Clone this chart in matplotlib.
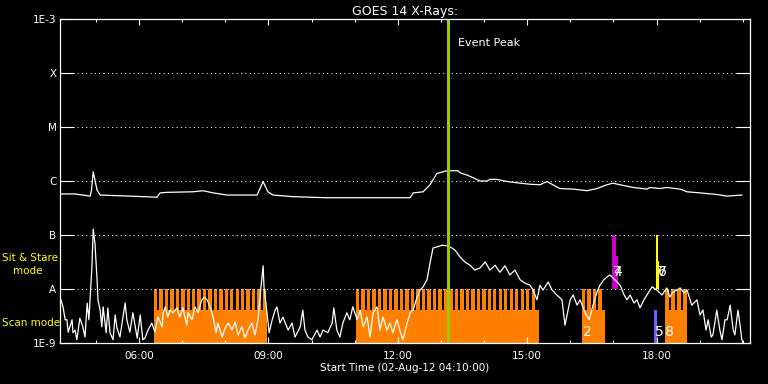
import numpy as np
import matplotlib
matplotlib.use("Agg")
import matplotlib.pyplot as plt
from matplotlib.ticker import NullLocator

start_hour = 4 + 10 / 60.0   # 02-Aug-12 04:10:00

# GOES 14 long channel, hours after start / log10 flux (W m^-2)
long_t = [0.00, 0.35, 0.70, 0.73, 0.77, 0.81, 0.86, 0.93, 1.62, 2.25,
          2.32, 2.48, 3.08, 3.32, 3.55, 3.87, 4.57, 4.71, 4.82, 4.94,
          5.40, 6.19, 8.12, 8.19, 8.42, 8.58, 8.74, 8.97, 9.23, 9.28,
          9.44, 9.58, 9.74, 9.90, 9.97, 10.13, 10.37, 10.67, 10.90, 11.13,
          11.29, 11.43, 11.59, 11.90, 12.22, 12.45, 12.68, 12.82, 12.99, 13.29,
          13.61, 13.68, 13.91, 14.07, 14.38, 14.54, 14.84, 15.23, 15.47, 15.81]
long_logf = [-6.24, -6.24, -6.28, -6.17, -5.83, -5.98, -6.17, -6.26, -6.28, -6.30,
             -6.22, -6.21, -6.20, -6.18, -6.22, -6.26, -6.26, -6.01, -6.20, -6.26,
             -6.29, -6.31, -6.31, -6.22, -6.20, -6.07, -5.86, -5.81, -5.81, -5.85,
             -5.89, -5.94, -6.00, -6.00, -5.97, -5.97, -6.01, -6.04, -6.06, -6.07,
             -6.01, -6.07, -6.14, -6.15, -6.18, -6.14, -6.07, -6.04, -6.07, -6.12,
             -6.15, -6.12, -6.14, -6.12, -6.15, -6.20, -6.22, -6.25, -6.28, -6.26]

# GOES 14 short channel
short_t = [0.02, 0.07, 0.12, 0.16, 0.19, 0.23, 0.28, 0.30, 0.35, 0.39,
           0.46, 0.53, 0.58, 0.63, 0.67, 0.74, 0.77, 0.81, 0.86, 0.88,
           0.93, 0.97, 1.00, 1.07, 1.11, 1.16, 1.23, 1.28, 1.32, 1.39,
           1.46, 1.51, 1.55, 1.62, 1.69, 1.79, 1.86, 1.92, 1.97, 2.04,
           2.13, 2.20, 2.27, 2.37, 2.39, 2.44, 2.50, 2.55, 2.62, 2.71,
           2.78, 2.85, 2.94, 2.97, 3.06, 3.13, 3.20, 3.29, 3.34, 3.41,
           3.48, 3.55, 3.62, 3.66, 3.76, 3.83, 3.90, 3.99, 4.06, 4.13,
           4.22, 4.29, 4.36, 4.45, 4.52, 4.59, 4.66, 4.71, 4.73, 4.80,
           4.85, 4.92, 4.99, 5.03, 5.10, 5.17, 5.29, 5.38, 5.45, 5.57,
           5.63, 5.68, 5.75, 5.84, 5.96, 6.03, 6.10, 6.21, 6.31, 6.35,
           6.42, 6.49, 6.56, 6.65, 6.72, 6.79, 6.89, 6.96, 7.03, 7.12,
           7.19, 7.26, 7.35, 7.42, 7.49, 7.58, 7.65, 7.72, 7.81, 7.88,
           7.95, 8.05, 8.12, 8.19, 8.28, 8.35, 8.42, 8.51, 8.58, 8.65,
           8.74, 8.86, 8.97, 9.09, 9.16, 9.28, 9.39, 9.51, 9.62, 9.74,
           9.86, 9.97, 10.09, 10.20, 10.32, 10.43, 10.55, 10.67, 10.78, 10.90,
           10.97, 11.06, 11.13, 11.20, 11.32, 11.41, 11.52, 11.64, 11.71, 11.83,
           11.90, 11.99, 12.06, 12.17, 12.27, 12.36, 12.45, 12.52, 12.61, 12.68,
           12.75, 12.87, 12.99, 13.08, 13.15, 13.22, 13.31, 13.38, 13.45, 13.54,
           13.61, 13.73, 13.84, 13.96, 14.07, 14.14, 14.21, 14.31, 14.38, 14.47,
           14.54, 14.65, 14.77, 14.84, 14.91, 14.98, 15.03, 15.10, 15.14, 15.23,
           15.30, 15.35, 15.42, 15.47, 15.54, 15.61, 15.65, 15.72, 15.77, 15.81,
           15.84]
short_logf = [-8.20, -8.33, -8.57, -8.57, -8.80, -8.70, -8.57, -8.81, -8.76, -8.94,
              -8.54, -8.70, -8.89, -8.26, -8.57, -7.59, -6.89, -7.15, -7.83, -8.20,
              -8.39, -8.70, -8.33, -8.81, -8.35, -8.81, -8.94, -8.48, -8.72, -8.89,
              -8.52, -8.26, -8.57, -8.80, -8.44, -8.91, -8.48, -8.94, -8.91, -8.76,
              -8.63, -8.80, -8.52, -8.70, -8.44, -8.33, -8.52, -8.39, -8.44, -8.35,
              -8.52, -8.35, -8.67, -8.43, -8.57, -8.33, -8.44, -8.20, -8.15, -8.20,
              -8.33, -8.52, -8.81, -8.63, -8.89, -8.72, -8.63, -8.76, -8.61, -8.85,
              -8.70, -8.91, -8.76, -8.63, -8.85, -8.57, -7.96, -7.57, -7.96, -8.44,
              -8.81, -8.57, -8.39, -8.33, -8.63, -8.52, -8.76, -8.63, -8.89, -8.70,
              -8.39, -8.76, -8.89, -8.94, -8.76, -8.89, -8.76, -8.81, -8.63, -8.35,
              -8.76, -8.89, -8.63, -8.44, -8.57, -8.33, -8.57, -8.39, -8.70, -8.52,
              -8.89, -8.44, -8.33, -8.76, -8.52, -8.76, -8.63, -8.81, -8.57, -8.76,
              -8.94, -8.63, -8.44, -8.39, -8.15, -8.02, -7.96, -7.83, -7.52, -7.24,
              -7.22, -7.19, -7.20, -7.24, -7.28, -7.41, -7.50, -7.56, -7.65, -7.61,
              -7.50, -7.65, -7.56, -7.69, -7.57, -7.74, -7.65, -7.83, -7.89, -7.93,
              -8.02, -8.20, -7.93, -8.02, -7.87, -8.02, -8.11, -8.20, -8.67, -8.20,
              -8.11, -8.30, -8.20, -8.43, -8.57, -8.30, -8.06, -7.93, -7.83, -7.78,
              -7.74, -7.83, -7.93, -8.11, -8.20, -8.11, -8.26, -8.20, -8.35, -8.20,
              -8.11, -7.96, -8.02, -8.11, -7.98, -8.15, -8.06, -8.02, -7.98, -8.07,
              -8.02, -8.30, -8.20, -8.48, -8.39, -8.76, -8.57, -8.89, -8.85, -8.39,
              -8.76, -8.94, -8.57, -8.57, -8.30, -8.76, -8.85, -8.39, -8.67, -8.94,
              -9.00]

# IRIS scan-mode blocks (hours after start)
scan_start = [2.18, 6.86, 12.10, 14.03]
scan_end = [4.80, 11.11, 12.64, 14.54]
scan_repeats = [21, 33, 4, 4]
scan_cadence = [0.126, 0.1273, 0.1276, 0.139]
scan_exposure = [0.079, 0.079, 0.079, 0.093]
scan_low = 4.1e-9
scan_high = 1e-8

# sit & stare / other observations
sit_start = [12.80, 12.885]
sit_end = [12.885, 12.93]
sit_top = [1e-7, 4.1e-8]
stare2_start = [13.82, 13.87]
stare2_end = [13.87, 13.90]
stare2_top = [1e-7, 3.3e-8]
blue_start = [13.77]
blue_end = [13.84]
blue_top = [4.1e-9]

obs_num = ['2', '7', '4', '5', '6', '7', '8']
obs_num_t = [12.13, 12.82, 12.82, 13.80, 13.87, 13.87, 14.03]
obs_num_logf = [-8.80, -7.69, -7.69, -8.80, -7.69, -7.69, -8.80]

peak_t = 9.0

level_vals = [1e-9, 1e-8, 1e-7, 1e-6, 1e-5, 1e-4, 1e-3]
level_names = ['1E-9', 'A', 'B', 'C', 'M', 'X', '1E-3']
hour_ticks = [6, 9, 12, 15, 18]
hour_labels = ['06:00', '09:00', '12:00', '15:00', '18:00']

orange = '#ff8000'
fig = plt.figure(figsize=(7.68, 3.84), dpi=100, facecolor='black')
ax = fig.add_axes([60 / 768, 41 / 384, 690 / 768, 324 / 384], facecolor='black')
ax.set_yscale('log')
ax.set_ylim(1e-9, 1e-3)
ax.set_xlim(0, 16)

bot = 1e-9
for s, e, n, c, w in zip(scan_start, scan_end, scan_repeats, scan_cadence, scan_exposure):
    ax.bar(s, scan_low - bot, width=e - s, bottom=bot, align='edge', color=orange, lw=0)
    starts = s + c * np.arange(n)
    ax.bar(starts, scan_high - bot, width=w, bottom=bot, align='edge', color=orange, lw=0)

for s, e, top in zip(sit_start, sit_end, sit_top):
    ax.bar(s, top - 1e-8, width=e - s, bottom=1e-8, align='edge', color='#cc00cc', lw=0)
for s, e, top in zip(stare2_start, stare2_end, stare2_top):
    ax.bar(s, top - 1e-8, width=e - s, bottom=1e-8, align='edge', color='#ffff00', lw=0)
for s, e, top in zip(blue_start, blue_end, blue_top):
    ax.bar(s, top - bot, width=e - s, bottom=bot, align='edge', color='#6464ff', lw=0)

ax.plot(long_t, 10 ** np.array(long_logf), color='white', lw=0.9)
ax.plot(short_t, 10 ** np.array(short_logf), color='white', lw=0.9)

for txt, t, lf in zip(obs_num, obs_num_t, obs_num_logf):
    ax.text(t, 10 ** lf, txt, color='white', fontsize=10, ha='left', va='center')

ax.axvline(peak_t, color='#99cc00', lw=2.2)
ax.text(peak_t + 0.23, 3.6e-4, 'Event Peak', color='white', fontsize=8, ha='left', va='center')

ax.set_yticks(level_vals)
ax.set_yticklabels(level_names)
ax.yaxis.set_minor_locator(NullLocator())
ax.set_xticks([h - start_hour for h in hour_ticks])
ax.set_xticklabels(hour_labels)
ax.set_xticks([h - start_hour for h in range(5, 21)], minor=True)
ax.grid(axis='y', which='major', color='white', linestyle=(0, (1, 3.3)), lw=0.72)

ax.tick_params(axis='y', which='major', direction='in', length=10, width=0.8,
               left=True, right=True, colors='white', labelsize=7.5, pad=2.5)
ax.tick_params(axis='x', which='major', direction='in', length=4.3, width=0.8,
               top=True, bottom=True, colors='white', labelsize=7.5, pad=5.5)
ax.tick_params(axis='x', which='minor', direction='in', length=2.2, width=0.8,
               top=True, bottom=True, colors='white')
for sp in ax.spines.values():
    sp.set_color('white')
    sp.set_linewidth(0.9)

ax.set_title('GOES 14 X-Rays:', color='white', fontsize=9, pad=3)
ax.set_xlabel('Start Time (02-Aug-12 04:10:00)', color='white', fontsize=7.5, labelpad=2)

fig.text(2 / 768, 1 - 258 / 384, 'Sit & Stare', color='yellow', fontsize=7.5, ha='left', va='center')
fig.text(13 / 768, 1 - 271 / 384, 'mode', color='yellow', fontsize=7.5, ha='left', va='center')
fig.text(2 / 768, 1 - 323 / 384, 'Scan mode', color='yellow', fontsize=7.5, ha='left', va='center')

fig.savefig('out.png', dpi=100, facecolor='black')
